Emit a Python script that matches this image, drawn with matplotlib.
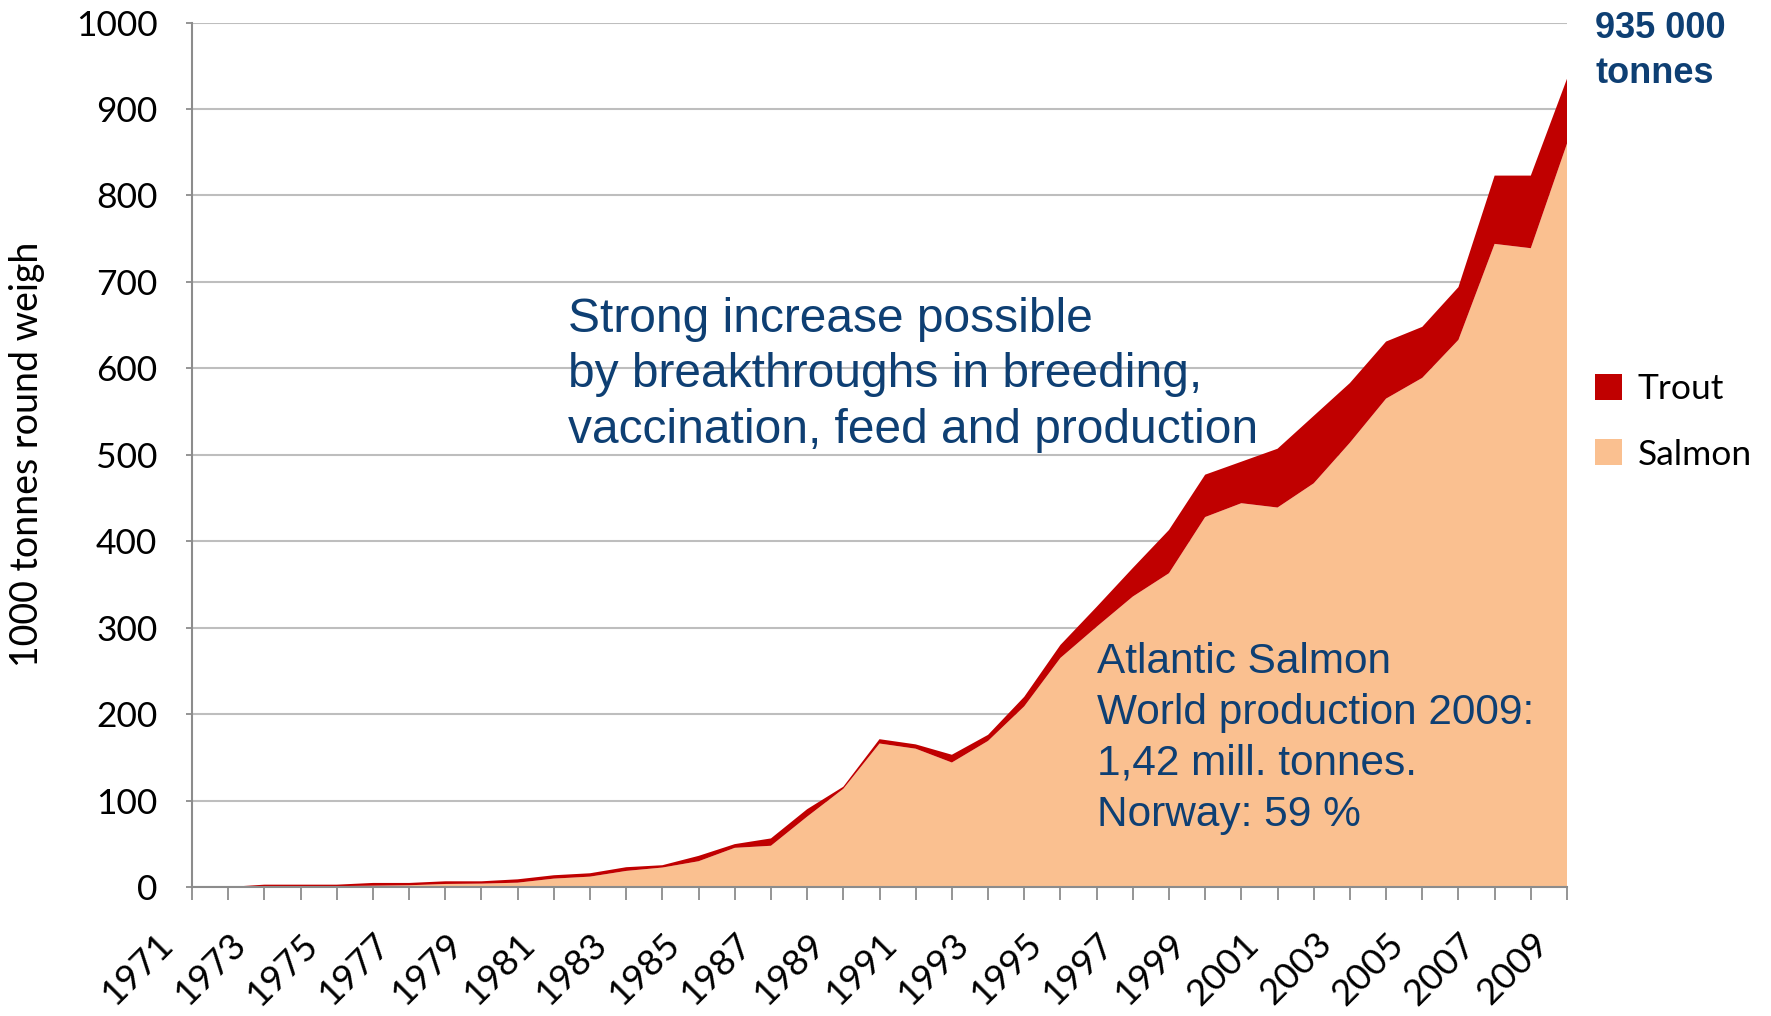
import matplotlib
matplotlib.use("Agg")
import matplotlib.pyplot as plt
import matplotlib.transforms as mtransforms
from matplotlib.patches import Patch

# data (1000 tonnes round weight)
years = list(range(1971, 2010))
salmon = [0, 0, 0.8, 1, 1, 1.5, 2, 3.5, 3.9, 5,
          9.7, 12, 18.6, 22.5, 29.8, 45.3, 47.7, 81.4, 113.6, 166,
          160, 144, 169, 209, 265, 301, 336, 363, 428, 444,
          439, 467, 514, 565, 589, 633, 744, 739, 860]
trout = [0, 0, 1.9, 1.7, 1.7, 3.2, 2.7, 3.1, 2.7, 3.9,
         3.9, 3.9, 4.3, 2.7, 6.2, 4.3, 8.5, 8.6, 2.4, 5,
         5, 9, 7, 11, 15, 23, 33, 50, 49, 48,
         68, 78, 69, 66, 59, 61, 79, 84, 75]
tick_labels = [str(y) if (y - 1971) % 2 == 0 else "" for y in years]
y_ticks = list(range(0, 1001, 100))

note_lines = ["Strong increase possible",
              "by breakthroughs in breeding,",
              "vaccination, feed and production"]
salmon_lines = ["Atlantic Salmon",
                "World production 2009:",
                "1,42 mill. tonnes.",
                "Norway: 59 %"]
total_lines = ["935 000", "tonnes"]

salmon_color = "#FAC090"
trout_color = "#C00000"
text_blue = "#0E3F73"
tick_font = "Lato"
note_font = "Liberation Sans"

W, H = 1771, 1016
fig = plt.figure(figsize=(W / 100, H / 100), dpi=100)
ax = fig.add_axes([192 / W, 1 - 887 / H, (1567 - 192) / W, (887 - 22.6) / H])

x = list(range(len(years)))
ax.stackplot(x, salmon, trout, colors=[salmon_color, trout_color], linewidth=0, zorder=2)

ax.set_xlim(0, len(years) - 1)
ax.set_ylim(0, 1000)
ax.set_yticks(y_ticks)
ax.set_yticklabels([str(v) for v in y_ticks], fontsize=25.5, family=tick_font)
ax.yaxis.grid(True, color="#BEBEBE", linewidth=1.5, zorder=0)
ax.set_axisbelow(True)

ax.set_xticks(x)
ax.set_xticklabels(tick_labels, fontsize=26.5, family=tick_font, rotation=45,
                   ha="right", va="center", rotation_mode="anchor")

ax.tick_params(axis="x", direction="out", length=9.5, width=1.3, color="#8C8C8C", pad=32)
ax.tick_params(axis="y", direction="out", length=4, width=1.3, color="#8C8C8C", pad=21)

# shift the rotated labels left, like the original (after tick_params, which resets transforms)
offset = mtransforms.ScaledTranslation(-0.24, 0.06, fig.dpi_scale_trans)
for lab in ax.get_xticklabels():
    lab.set_transform(lab.get_transform() + offset)

for side in ["top", "right"]:
    ax.spines[side].set_visible(False)
for side in ["left", "bottom"]:
    ax.spines[side].set_color("#8C8C8C")
    ax.spines[side].set_linewidth(1.5)

ax.set_ylabel("1000 tonnes round weigh", fontsize=27, family=tick_font)
ax.yaxis.set_label_coords((45 - 192) / 1375, 0.5)

# annotations (baselines in pixels from the top)
for line, base in zip(note_lines, [332, 387, 443]):
    fig.text(568 / W, 1 - base / H, line, fontsize=34.5, color=text_blue,
             family=note_font, va="baseline", ha="left")
for line, base in zip(salmon_lines, [673, 724, 775, 826]):
    fig.text(1097 / W, 1 - base / H, line, fontsize=30.5, color=text_blue,
             family=note_font, va="baseline", ha="left")
for line, base in zip(total_lines, [38, 83]):
    fig.text(1595 / W, 1 - base / H, line, fontsize=26, fontweight="bold",
             color=text_blue, family=note_font, va="baseline", ha="left")

handles = [Patch(facecolor=trout_color, label="Trout"),
           Patch(facecolor=salmon_color, label="Salmon")]
fig.legend(handles=handles, loc="upper left", bbox_to_anchor=(1595 / W, 1 - 373 / H),
           frameon=False, prop={"family": tick_font, "size": 25.5},
           borderpad=0, borderaxespad=0,
           handlelength=0.75, handleheight=0.75, handletextpad=0.45, labelspacing=0.95)

fig.savefig("out.png", dpi=100)
